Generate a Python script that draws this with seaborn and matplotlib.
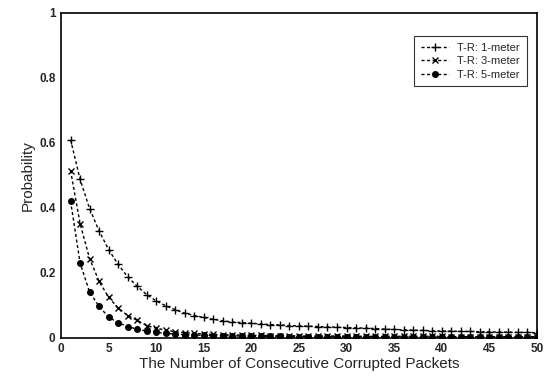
import matplotlib
matplotlib.use("Agg")
import matplotlib.pyplot as plt
import seaborn as sns
import numpy as np

sns.set_style("white")
plt.rcParams['font.family'] = ['Liberation Sans', 'DejaVu Sans']

packets = list(range(1, 51))
prob_1m = [0.610, 0.488, 0.398, 0.329, 0.272, 0.226, 0.188, 0.159, 0.133, 0.114,
           0.099, 0.087, 0.076, 0.069, 0.063, 0.057, 0.053, 0.049, 0.047, 0.045,
           0.043, 0.041, 0.040, 0.038, 0.037, 0.036, 0.035, 0.034, 0.033, 0.032,
           0.031, 0.030, 0.029, 0.027, 0.026, 0.025, 0.024, 0.023, 0.022, 0.021,
           0.021, 0.020, 0.020, 0.019, 0.019, 0.018, 0.018, 0.017, 0.017, 0.016]
prob_3m = [0.515, 0.352, 0.244, 0.174, 0.125, 0.092, 0.069, 0.054, 0.038, 0.030,
           0.024, 0.019, 0.016, 0.014, 0.012, 0.011, 0.010, 0.009, 0.009, 0.008,
           0.008, 0.007, 0.007, 0.007, 0.006, 0.006, 0.006, 0.006, 0.006, 0.006,
           0.005, 0.005, 0.005, 0.005, 0.005, 0.005, 0.005, 0.005, 0.005, 0.005,
           0.004, 0.004, 0.004, 0.004, 0.004, 0.004, 0.004, 0.004, 0.004, 0.004]
prob_5m = [0.421, 0.231, 0.141, 0.097, 0.064, 0.047, 0.035, 0.027, 0.021, 0.017,
           0.014, 0.012, 0.010, 0.009, 0.008, 0.007, 0.007, 0.006, 0.006, 0.005,
           0.005, 0.005, 0.005, 0.004, 0.004, 0.004, 0.004, 0.004, 0.004, 0.004,
           0.004, 0.004, 0.003, 0.003, 0.003, 0.003, 0.003, 0.003, 0.003, 0.003,
           0.003, 0.003, 0.003, 0.003, 0.003, 0.003, 0.003, 0.003, 0.003, 0.003]
labels = ["T-R: 1-meter", "T-R: 3-meter", "T-R: 5-meter"]
markers = ["+", "x", "o"]
msizes = [5.5, 4.5, 4]

fig = plt.figure(figsize=(5.45, 3.78), dpi=100)
ax = fig.add_axes([0.112, 0.106, 0.873, 0.860])

for vals, lab, mk, ms in zip([prob_1m, prob_3m, prob_5m], labels, markers, msizes):
    sns.lineplot(x=packets, y=vals, ax=ax, color="black", linestyle=(0, (2.2, 1.8)),
                 linewidth=1.0, marker=mk, markersize=ms, markeredgewidth=1.0,
                 markerfacecolor="black", markeredgecolor="black", label=lab)

ax.set_xlim(0, 50)
ax.set_ylim(0, 1)
ax.set_xticks(range(0, 51, 5))
ax.set_yticks([0, 0.2, 0.4, 0.6, 0.8, 1.0])
ax.set_yticklabels(["0", "0.2", "0.4", "0.6", "0.8", "1"])
ax.tick_params(direction="in", length=4, width=0.8, labelsize=8.5, pad=4)
for lbl in ax.get_xticklabels() + ax.get_yticklabels():
    lbl.set_fontweight("bold")
for sp in ax.spines.values():
    sp.set_linewidth(1.2)
    sp.set_color("black")
ax.set_xlabel("The Number of Consecutive Corrupted Packets", fontsize=11, labelpad=1)
ax.set_ylabel("Probability", fontsize=11, labelpad=3)

leg = ax.legend(loc="upper right", bbox_to_anchor=(0.99, 0.945), fontsize=8,
                frameon=True, fancybox=False, edgecolor="black", handlelength=2.6,
                borderpad=0.6, labelspacing=0.3, handletextpad=0.7)
leg.get_frame().set_linewidth(0.8)

fig.savefig("out.png", dpi=100)
